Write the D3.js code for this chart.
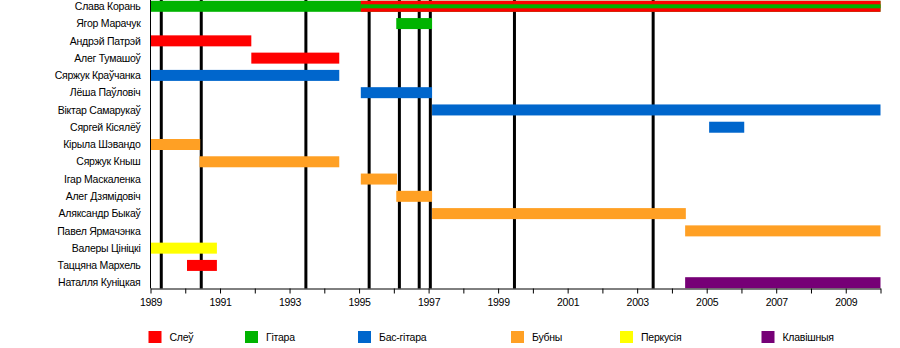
<!DOCTYPE html>
<html>
<head>
<meta http-equiv="Content-Type" content="text/html; charset=utf-8">
<script src="https://cdnjs.cloudflare.com/ajax/libs/d3/7.8.5/d3.min.js"></script>
<style>
  body { margin: 0; background: #fff; }
  svg text { font-family: "Liberation Sans", Arial, sans-serif; fill: #000; }
</style>
</head>
<body>
<div class="timeline"></div>
<script type="text/javascript">

// ---------------------------------------------------------------- DATA

// band members, top to bottom
var members = [
  "Слава Корань", "Ягор Марачук", "Андрэй Патрэй", "Алег Тумашоў",
  "Сяржук Краўчанка", "Лёша Паўловіч", "Віктар Самарукаў", "Сяргей Кісялёў",
  "Кірыла Шэвандо", "Сяржук Кныш", "Ігар Маскаленка", "Алег Дзямідовіч",
  "Аляксандр Быкаў", "Павел Ярмачэнка", "Валеры Цініцкі", "Таццяна Мархель",
  "Наталля Куніцкая"
];

// instruments (legend order) and their colours
var roles = ["Слеў", "Гітара", "Бас-гітара", "Бубны", "Перкусія", "Клавішныя"];
var roleColors = ["#ff0000", "#00b300", "#0066cc", "#ffa024", "#ffff00", "#760076"];

// [member, role, from, to] in fractional years
var periods = [
  ["Слава Корань", "Гітара", 1989, 2010],
  ["Слава Корань", "Слеў", 1995.05, 2010],
  ["Ягор Марачук", "Гітара", 1996.07, 1997.1],
  ["Андрэй Патрэй", "Слеў", 1989, 1991.9],
  ["Алег Тумашоў", "Слеў", 1991.9, 1994.43],
  ["Сяржук Краўчанка", "Бас-гітара", 1989, 1994.43],
  ["Лёша Паўловіч", "Бас-гітара", 1995.05, 1997.1],
  ["Віктар Самарукаў", "Бас-гітара", 1997.1, 2010],
  ["Сяргей Кісялёў", "Бас-гітара", 2005.07, 2006.08],
  ["Кірыла Шэвандо", "Бубны", 1989, 1990.43],
  ["Сяржук Кныш", "Бубны", 1990.41, 1994.43],
  ["Ігар Маскаленка", "Бубны", 1995.05, 1996.09],
  ["Алег Дзямідовіч", "Бубны", 1996.07, 1997.1],
  ["Аляксандр Быкаў", "Бубны", 1997.1, 2004.4],
  ["Павел Ярмачэнка", "Бубны", 2004.38, 2010],
  ["Валеры Цініцкі", "Перкусія", 1989, 1990.91],
  ["Таццяна Мархель", "Слеў", 1990.05, 1990.91],
  ["Наталля Куніцкая", "Клавішныя", 2004.38, 2010]
];

// secondary role drawn as a thin stripe over the main bar
var stripes = [
  ["Слава Корань", "Гітара", 1995.05, 2010]
];

// album releases, drawn as vertical lines
var releases = [1989.31, 1990.46, 1993.47, 1995.29, 1996.16, 1996.73, 1997.05, 1999.47, 2003.46];

var yearStart = 1989, yearEnd = 2010;
var labelYears = [1989, 1991, 1993, 1995, 1997, 1999, 2001, 2003, 2005, 2007, 2009];

// ---------------------------------------------------------------- LAYOUT

var width = 900, height = 348;
var plotLeft = 150.5, plotRight = 880.5, axisY = 288.5;
var barH = 11, stripeH = 4;
var legendX = [148.5, 245, 358, 511, 620, 761.5];

var svg = d3.select("div.timeline")
  .append("svg")
  .attr("width", width)
  .attr("height", height);

var x = d3.scaleLinear()
  .domain([yearStart, yearEnd])
  .range([plotLeft, plotRight]);

var y = d3.scalePoint()
  .domain(members)
  .range([6.3, 282.7]);

var color = d3.scaleOrdinal()
  .domain(roles)
  .range(roleColors);

// release lines sit behind the bars
svg.append("g")
  .selectAll("line")
  .data(releases)
  .enter()
  .append("line")
  .attr("x1", function(d){ return x(d); })
  .attr("x2", function(d){ return x(d); })
  .attr("y1", 0)
  .attr("y2", axisY)
  .attr("stroke", "#000")
  .attr("stroke-width", 3);

// member bars
svg.append("g")
  .selectAll("rect")
  .data(periods)
  .enter()
  .append("rect")
  .attr("x", function(d){ return x(d[2]); })
  .attr("y", function(d){ return y(d[0]) - barH / 2; })
  .attr("width", function(d){ return x(d[3]) - x(d[2]); })
  .attr("height", barH)
  .attr("fill", function(d){ return color(d[1]); });

svg.append("g")
  .selectAll("rect")
  .data(stripes)
  .enter()
  .append("rect")
  .attr("x", function(d){ return x(d[2]); })
  .attr("y", function(d){ return y(d[0]) - stripeH / 2; })
  .attr("width", function(d){ return x(d[3]) - x(d[2]); })
  .attr("height", stripeH)
  .attr("fill", function(d){ return color(d[1]); });

// names
svg.append("g")
  .selectAll("text")
  .data(members)
  .enter()
  .append("text")
  .attr("x", 140.5)
  .attr("y", function(d){ return y(d); })
  .attr("dy", "0.35em")
  .attr("text-anchor", "end")
  .style("font-size", "10.5px")
  .style("letter-spacing", "-0.25px")
  .text(function(d){ return d; });

// left edge
svg.append("line")
  .attr("x1", plotLeft).attr("x2", plotLeft)
  .attr("y1", 0).attr("y2", axisY)
  .attr("stroke", "#000")
  .attr("stroke-width", 1);

// time axis: a tick every year, labels every second year
var axis = d3.axisBottom(x)
  .tickValues(d3.range(yearStart, yearEnd + 1))
  .tickSize(5)
  .tickSizeOuter(0)
  .tickFormat(function(d){ return labelYears.indexOf(d) >= 0 ? d : ""; });

var gAxis = svg.append("g")
  .attr("transform", "translate(0," + axisY + ")")
  .call(axis);

gAxis.select(".domain").attr("stroke", "#000");
gAxis.selectAll(".tick line").attr("stroke", "#000");
gAxis.selectAll(".tick text")
  .attr("y", 10)
  .style("font-size", "10.5px")
  .style("letter-spacing", "-0.3px")
  .style("font-family", "\"Liberation Sans\", Arial, sans-serif")
  .attr("fill", "#222");

// legend
var legend = svg.append("g")
  .selectAll("g")
  .data(roles)
  .enter()
  .append("g")
  .attr("transform", function(d, i){ return "translate(" + legendX[i] + ",331)"; });

legend.append("rect")
  .attr("width", 13)
  .attr("height", 12)
  .attr("fill", function(d){ return color(d); });

legend.append("text")
  .attr("x", 21)
  .attr("y", 6.5)
  .attr("dy", "0.35em")
  .style("font-size", "10.5px")
  .style("letter-spacing", "-0.25px")
  .text(function(d){ return d; });

</script>
</body>
</html>
